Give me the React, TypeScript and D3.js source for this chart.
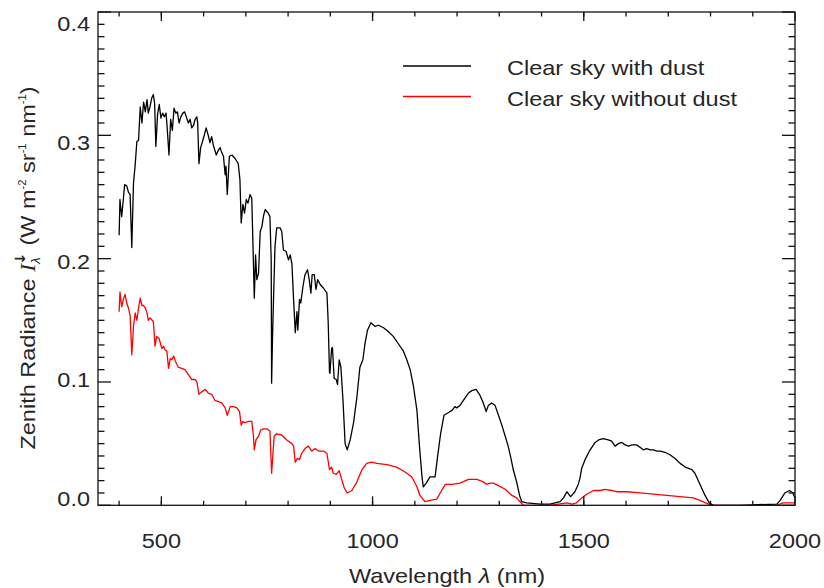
import React from "react";
import * as d3 from "d3";

// Zenith spectral radiance, clear sky with dust (black)
const dustWavelength = [
  400, 402, 406, 410, 413, 418, 422, 426, 430, 434, 438, 442, 446, 450, 454, 458, 462, 466, 469, 473,
  477, 481, 484, 487, 491, 495, 499, 503, 507, 511, 513, 518, 522, 526, 530, 534, 538, 542, 546, 551,
  555, 559, 564, 568, 572, 576, 580, 584, 586, 589, 593, 600, 606, 611, 615, 619, 623, 630, 635, 639,
  643, 647, 651, 653, 656, 661, 667, 675, 682, 686, 689, 693, 697, 701, 705, 710, 714, 716, 720, 723,
  726, 730, 734, 738, 742, 746, 750, 753, 757, 760, 761, 763, 765, 769, 773, 781, 785, 789, 795, 801,
  805, 809, 813, 817, 821, 823, 827, 830, 835, 840, 846, 850, 854, 857, 862, 866, 870, 876, 884, 892,
  895, 898, 899, 903, 905, 909, 914, 917, 921, 925, 930, 935, 940, 947, 955, 963, 970, 977, 982, 988,
  996, 1006, 1014, 1026, 1037, 1049, 1061, 1073, 1081, 1089, 1097, 1105, 1111, 1117, 1120, 1127, 1136, 1148, 1153, 1161,
  1169, 1179, 1188, 1195, 1199, 1207, 1215, 1227, 1235, 1245, 1253, 1261, 1269, 1274, 1282, 1290, 1298, 1306, 1314, 1321,
  1327, 1333, 1341, 1348, 1353, 1365, 1397, 1420, 1432, 1444, 1452, 1460, 1464, 1469, 1479, 1487, 1491, 1495, 1503, 1515,
  1527, 1535, 1546, 1558, 1566, 1574, 1582, 1590, 1598, 1606, 1614, 1625, 1633, 1641, 1649, 1657, 1665, 1673, 1681, 1692,
  1704, 1716, 1728, 1740, 1756, 1763, 1775, 1787, 1797, 1807, 1870, 1957, 1965, 1976, 1987, 1995, 2000,
];
const dustRadiance = [
  0.219, 0.248, 0.234, 0.248, 0.26, 0.259, 0.254, 0.252, 0.209, 0.261, 0.276, 0.295, 0.296, 0.323, 0.31, 0.327, 0.319, 0.329, 0.318, 0.323,
  0.33, 0.333, 0.326, 0.291, 0.317, 0.325, 0.314, 0.318, 0.315, 0.318, 0.31, 0.284, 0.313, 0.304, 0.322, 0.318, 0.319, 0.31, 0.315, 0.318,
  0.319, 0.315, 0.31, 0.313, 0.306, 0.308, 0.313, 0.315, 0.31, 0.277, 0.29, 0.298, 0.306, 0.3, 0.294, 0.299, 0.292, 0.284, 0.288, 0.29,
  0.286, 0.283, 0.268, 0.275, 0.252, 0.283, 0.284, 0.281, 0.277, 0.264, 0.229, 0.244, 0.237, 0.248, 0.245, 0.252, 0.249, 0.223, 0.168, 0.203,
  0.183, 0.188, 0.222, 0.226, 0.235, 0.24, 0.238, 0.237, 0.234, 0.199, 0.099, 0.134, 0.161, 0.21, 0.225, 0.225, 0.222, 0.207, 0.206, 0.199,
  0.203, 0.196, 0.167, 0.14, 0.157, 0.142, 0.167, 0.164, 0.177, 0.187, 0.191, 0.183, 0.172, 0.187, 0.187, 0.175, 0.183, 0.179, 0.176, 0.172,
  0.148, 0.108, 0.107, 0.127, 0.128, 0.103, 0.102, 0.098, 0.118, 0.112, 0.085, 0.05, 0.045, 0.053, 0.067, 0.088, 0.112, 0.118, 0.131, 0.142,
  0.148, 0.145, 0.146, 0.144, 0.141, 0.137, 0.131, 0.125, 0.118, 0.11, 0.096, 0.077, 0.048, 0.023, 0.015, 0.018, 0.023, 0.023, 0.037, 0.058,
  0.073, 0.075, 0.077, 0.08, 0.079, 0.081, 0.085, 0.091, 0.093, 0.094, 0.09, 0.084, 0.076, 0.081, 0.083, 0.081, 0.073, 0.065, 0.056, 0.048,
  0.039, 0.029, 0.019, 0.008, 0.003, 0.002, 0.001, 0.001, 0.002, 0.003, 0.006, 0.011, 0.009, 0.007, 0.011, 0.017, 0.022, 0.03, 0.037, 0.045,
  0.051, 0.053, 0.054, 0.053, 0.052, 0.048, 0.05, 0.051, 0.049, 0.048, 0.049, 0.049, 0.047, 0.045, 0.046, 0.045, 0.045, 0.044, 0.044, 0.043,
  0.041, 0.038, 0.034, 0.031, 0.029, 0.026, 0.017, 0.008, 0.002, 0.0, 0.0, 0.001, 0.004, 0.01, 0.012, 0.01, 0.006,
];

// Zenith spectral radiance, clear sky without dust (red)
const clearWavelength = [
  400, 402, 406, 410, 414, 418, 422, 426, 430, 434, 438, 442, 446, 450, 454, 458, 462, 466, 469, 473,
  481, 485, 489, 495, 501, 505, 509, 513, 517, 521, 525, 529, 533, 540, 548, 556, 564, 572, 580, 584,
  589, 596, 604, 611, 619, 627, 635, 643, 651, 656, 663, 671, 679, 685, 689, 693, 698, 706, 714, 718,
  720, 724, 730, 735, 742, 750, 757, 761, 767, 773, 785, 797, 809, 813, 817, 822, 827, 832, 840, 848,
  856, 864, 872, 884, 892, 898, 903, 907, 914, 921, 926, 933, 940, 951, 963, 975, 986, 998, 1010, 1034,
  1057, 1077, 1093, 1105, 1112, 1124, 1136, 1152, 1160, 1172, 1188, 1207, 1227, 1247, 1262, 1270, 1278, 1286, 1298, 1314,
  1330, 1341, 1349, 1357, 1420, 1460, 1472, 1483, 1495, 1507, 1523, 1539, 1550, 1566, 1578, 1602, 1633, 1665, 1696, 1728,
  1759, 1775, 1795, 1807, 1957, 1972, 1988, 2000,
];
const clearRadiance = [
  0.157, 0.173, 0.161, 0.167, 0.171, 0.164, 0.16, 0.154, 0.122, 0.145, 0.156, 0.15, 0.16, 0.168, 0.162, 0.162, 0.16, 0.156, 0.15, 0.152,
  0.149, 0.129, 0.137, 0.135, 0.127, 0.129, 0.126, 0.125, 0.111, 0.119, 0.118, 0.121, 0.117, 0.112, 0.111, 0.11, 0.106, 0.102, 0.102, 0.1,
  0.09, 0.092, 0.094, 0.091, 0.09, 0.085, 0.084, 0.083, 0.079, 0.073, 0.08, 0.08, 0.079, 0.076, 0.065, 0.068, 0.067, 0.068, 0.068, 0.056,
  0.045, 0.053, 0.056, 0.061, 0.062, 0.062, 0.06, 0.026, 0.056, 0.058, 0.057, 0.053, 0.05, 0.048, 0.035, 0.038, 0.037, 0.042, 0.046, 0.048,
  0.044, 0.046, 0.044, 0.044, 0.042, 0.029, 0.031, 0.026, 0.025, 0.028, 0.022, 0.014, 0.01, 0.012, 0.019, 0.029, 0.034, 0.035, 0.034, 0.033,
  0.031, 0.027, 0.023, 0.015, 0.008, 0.003, 0.004, 0.005, 0.01, 0.017, 0.017, 0.018, 0.021, 0.021, 0.019, 0.017, 0.018, 0.018, 0.016, 0.013,
  0.008, 0.006, 0.003, 0.0, 0.0, 0.002, 0.001, 0.002, 0.006, 0.009, 0.012, 0.012, 0.013, 0.012, 0.011, 0.011, 0.01, 0.009, 0.008, 0.007,
  0.006, 0.004, 0.001, 0.0, 0.0, 0.002, 0.002, 0.002,
];

const xMajorTicks = [500, 1000, 1500, 2000];
const xMinorTicks = d3.range(400, 2000, 100);
const yMajorTicks = [0.0, 0.1, 0.2, 0.3, 0.4];
const yMinorTicks = d3.range(0, 0.4001, 0.01);

const legendItems = [
  { label: "Clear sky with dust", color: "#000000" },
  { label: "Clear sky without dust", color: "#ff0000" },
];

const W = 824;
const H = 588;
const plot = { left: 98, right: 795, top: 12, bottom: 505.3 };
const FONT = "'Liberation Sans', Arial, Helvetica, sans-serif";
const TEXT_COLOR = "#262626";
const SX = 1.12; // horizontal stretch of the label type

function Label({ x, y, anchor = "start", size = 21, rotate = 0, children }: any) {
  return (
    <text
      transform={`translate(${x},${y}) rotate(${rotate}) scale(${SX},1)`}
      textAnchor={anchor}
      fontFamily={FONT}
      fontSize={size}
      fill={TEXT_COLOR}
    >
      {children}
    </text>
  );
}

export default function App() {
  const x = d3.scaleLinear().domain([350, 2000]).range([plot.left, plot.right]);
  const y = d3.scaleLinear().domain([0, 0.4]).range([plot.bottom, plot.top]);
  // tick label positions on the value axis
  const yLabel = d3.scaleLinear().domain([0, 0.4]).range([506, 31]);

  const line = d3
    .line<[number, number]>()
    .x((d) => x(d[0]))
    .y((d) => y(d[1]));

  const dust = dustWavelength.map((w, i) => [w, dustRadiance[i]] as [number, number]);
  const clear = clearWavelength.map((w, i) => [w, clearRadiance[i]] as [number, number]);

  const xMajLen = 9;
  const xMinLen = 4.5;
  const yMajLen = 13;
  const yMinLen = 6.5;
  const isMajorY = (v: number) => yMajorTicks.some((m) => Math.abs(m - v) < 1e-6);

  return (
    <svg
      width={W}
      height={H}
      style={{ position: "absolute", left: 0, top: 0, background: "#fff" }}
    >
      <rect x={0} y={0} width={W} height={H} fill="#fff" />

      <defs>
        <clipPath id="plot-clip">
          <rect x={plot.left} y={plot.top} width={plot.right - plot.left} height={plot.bottom - plot.top} />
        </clipPath>
      </defs>

      {/* curves */}
      <g clipPath="url(#plot-clip)" fill="none" strokeWidth={1.3} strokeLinejoin="round">
        <path d={line(clear) || ""} stroke="#ff0000" />
        <path d={line(dust) || ""} stroke="#000000" />
      </g>

      {/* frame and ticks */}
      <g stroke="#111" strokeWidth={1.3} fill="none">
        <rect x={plot.left} y={plot.top} width={plot.right - plot.left} height={plot.bottom - plot.top} />
        {xMinorTicks.map((t) => (
          <g key={"xm" + t}>
            <line x1={x(t)} x2={x(t)} y1={plot.bottom} y2={plot.bottom - xMinLen} />
            <line x1={x(t)} x2={x(t)} y1={plot.top} y2={plot.top + xMinLen} />
          </g>
        ))}
        {xMajorTicks.map((t) => (
          <g key={"xM" + t}>
            <line x1={x(t)} x2={x(t)} y1={plot.bottom} y2={plot.bottom - xMajLen} />
            <line x1={x(t)} x2={x(t)} y1={plot.top} y2={plot.top + xMajLen} />
          </g>
        ))}
        {yMinorTicks.map((t) => {
          const len = isMajorY(t) ? yMajLen : yMinLen;
          return (
            <g key={"y" + t.toFixed(2)}>
              <line x1={plot.left} x2={plot.left + len} y1={y(t)} y2={y(t)} />
              <line x1={plot.right} x2={plot.right - len} y1={y(t)} y2={y(t)} />
            </g>
          );
        })}
      </g>

      {/* tick labels */}
      {xMajorTicks.map((t) => (
        <Label key={"xl" + t} x={x(t)} y={548} anchor="middle" size={21}>
          {String(t)}
        </Label>
      ))}
      {yMajorTicks.map((t) => (
        <Label key={"yl" + t} x={90} y={yLabel(t)} anchor="end" size={21}>
          {t.toFixed(1)}
        </Label>
      ))}

      {/* axis titles */}
      <Label x={447} y={583} anchor="middle" size={21}>
        Wavelength <tspan fontStyle="italic">λ</tspan> (nm)
      </Label>
      <Label x={35} y={268} anchor="middle" size={21} rotate={-90}>
        Zenith Radiance{" "}
        <tspan fontFamily="'Liberation Serif', 'Times New Roman', serif" fontStyle="italic">I</tspan>
        <tspan fontSize={12} dy={5} fontStyle="italic">λ</tspan>
        <tspan fontFamily="'DejaVu Sans', sans-serif" fontWeight="bold" fontSize={14} dy={-15} dx={-7}>↓</tspan>
        <tspan dy={10}> (W m</tspan>
        <tspan fontSize={10} dy={-9}>-2</tspan>
        <tspan dy={9}> sr</tspan>
        <tspan fontSize={10} dy={-9}>-1</tspan>
        <tspan dy={9}> nm</tspan>
        <tspan fontSize={10} dy={-9}>-1</tspan>
        <tspan dy={9}>)</tspan>
      </Label>

      {/* legend */}
      {legendItems.map((item, i) => (
        <g key={item.label}>
          <line x1={403} x2={471} y1={66 + i * 30.5} y2={66 + i * 30.5} stroke={item.color} strokeWidth={1.3} />
          <Label x={507} y={75 + i * 30.5} size={21}>
            {item.label}
          </Label>
        </g>
      ))}
    </svg>
  );
}
